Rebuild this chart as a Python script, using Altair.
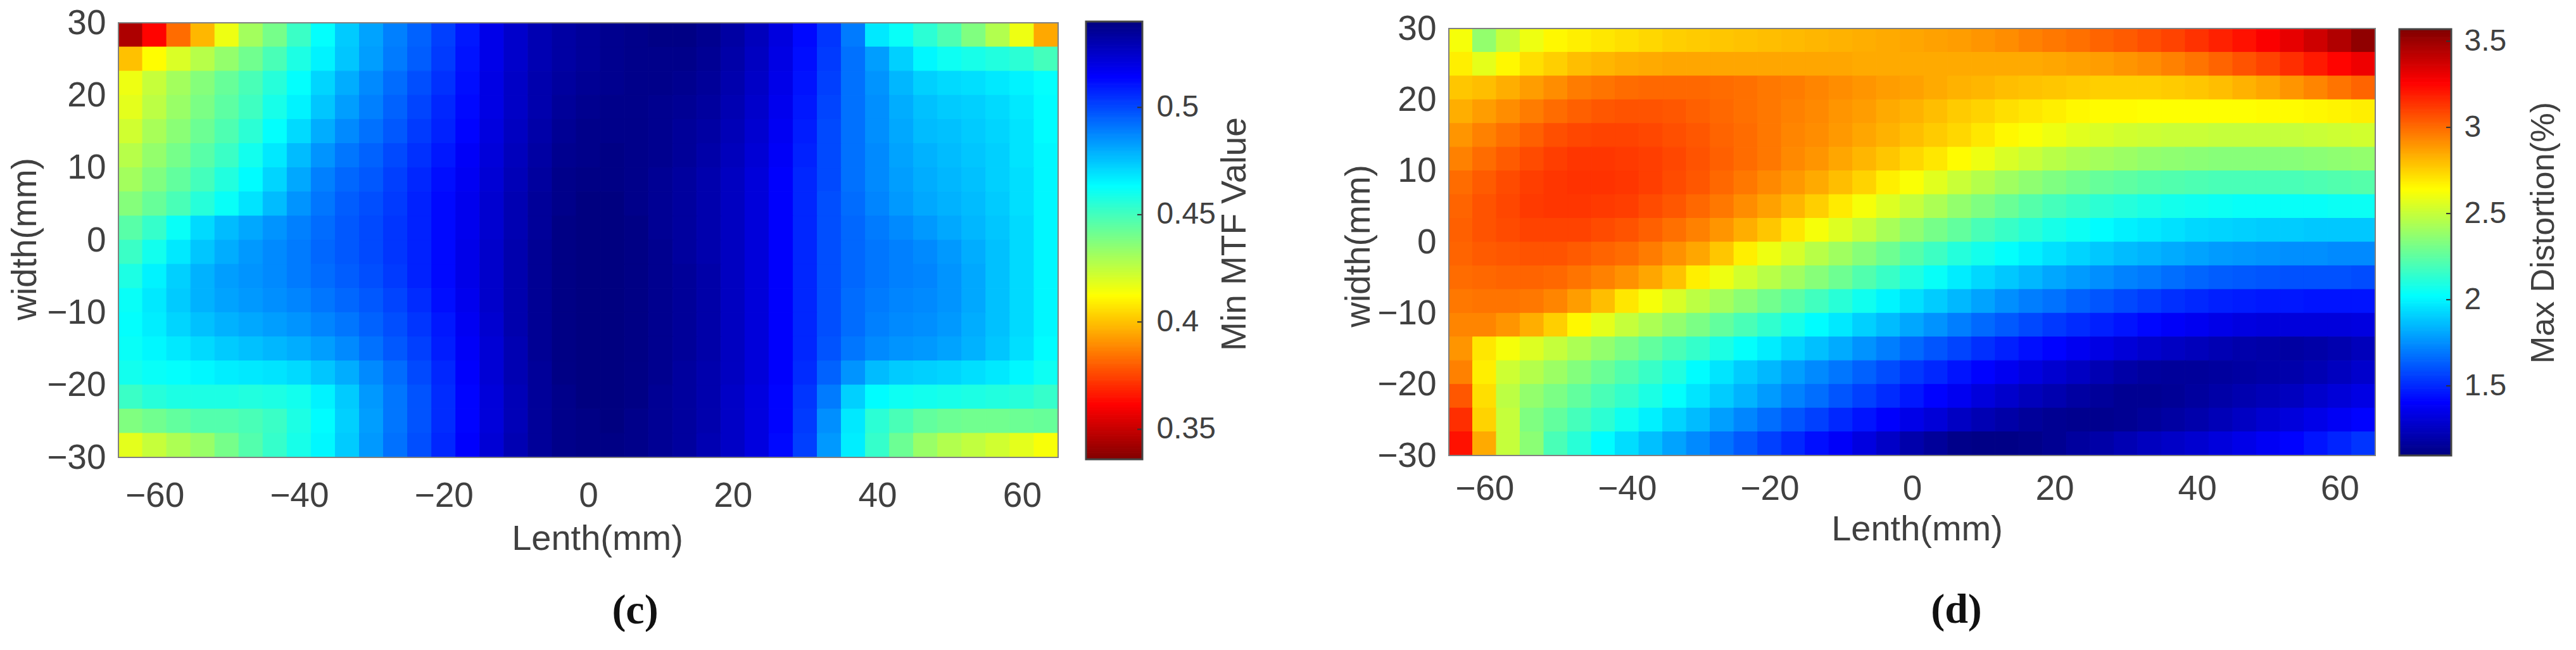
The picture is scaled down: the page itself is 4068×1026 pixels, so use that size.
import altair as alt
import numpy as np
import pandas as pd

# Values, one row per 3.33 mm band, top (width=+30) to bottom.
MTF_MILLI = [
[345,362,383,398,416,431,440,452,463,474,482,489,495,502,510,519,525,530,533,535,537,538,539,539,537,533,528,521,513,504,490,468,462,455,448,438,428,416,395],
[400,412,420,427,434,441,449,458,466,475,483,490,496,503,511,519,525,530,533,535,537,538,538,538,536,532,527,520,512,503,492,483,473,465,461,459,457,455,450],
[416,424,431,437,443,449,456,463,472,480,487,493,499,505,512,520,526,531,534,536,537,538,538,537,535,531,526,519,511,502,492,485,478,473,471,470,468,466,463],
[418,426,433,439,445,451,459,466,475,483,489,495,501,507,513,520,526,531,535,537,538,538,537,536,534,530,525,518,510,501,492,486,480,476,474,473,471,468,464],
[422,430,436,442,448,455,463,471,480,487,492,497,503,508,514,521,527,532,536,538,538,538,537,535,533,529,524,517,509,500,492,486,481,477,476,474,472,469,464],
[427,434,440,446,452,460,468,477,485,491,495,500,505,510,516,522,528,533,537,538,539,538,537,535,532,528,523,516,508,500,492,487,482,479,477,475,473,469,465],
[431,438,444,450,457,464,472,481,489,494,497,502,507,512,517,523,529,534,538,539,539,538,536,534,531,527,522,515,507,500,492,487,483,480,478,476,473,470,465],
[437,443,449,456,462,469,477,485,491,496,499,503,508,513,518,524,530,535,538,540,540,538,536,534,531,527,522,515,507,499,493,488,484,481,479,477,474,470,465],
[446,453,462,471,477,481,485,489,493,497,500,504,508,513,518,524,530,535,539,540,540,539,536,534,531,527,522,515,507,499,494,490,487,484,481,478,475,471,465],
[452,460,468,475,480,484,487,490,494,497,500,504,508,513,519,525,531,536,539,540,540,539,537,534,531,527,522,515,507,499,494,491,489,487,484,480,476,471,465],
[458,466,473,479,483,485,487,490,493,496,499,503,508,513,519,525,531,536,539,540,540,539,537,535,532,527,522,515,507,499,494,491,489,488,485,481,476,471,465],
[462,468,474,479,482,484,486,488,491,494,497,501,506,512,518,525,531,536,539,540,540,539,537,535,532,527,522,515,507,499,493,490,488,487,485,481,476,471,465],
[463,467,472,476,479,481,483,485,488,491,495,499,504,510,517,524,531,536,539,540,540,539,537,535,532,527,522,515,507,499,493,489,487,486,484,480,476,471,465],
[462,465,468,471,474,476,478,480,483,487,492,497,502,509,516,523,530,536,539,540,540,539,537,535,532,527,522,515,507,498,491,487,485,484,482,479,475,470,464],
[460,462,463,465,467,468,469,471,475,480,487,493,500,507,515,523,530,535,539,540,540,539,537,534,531,527,522,515,506,495,485,477,474,473,472,470,468,465,461],
[452,456,458,458,458,457,458,460,466,474,484,491,498,506,514,522,529,535,538,540,540,539,536,534,531,526,521,514,504,490,473,464,461,460,459,458,457,456,453],
[438,441,444,447,447,449,452,458,464,473,483,491,498,506,514,522,529,535,538,539,540,538,536,534,531,526,521,514,503,486,468,455,449,444,442,441,441,442,443],
[418,424,429,433,440,447,453,459,465,474,484,492,499,507,515,523,530,535,538,539,539,538,536,534,530,526,521,513,502,484,467,453,442,433,428,425,422,418,414],
]

DIST_CENTI = [
[262,238,250,260,266,268,270,272,274,276,277,278,279,280,281,282,283,284,285,286,287,288,290,292,295,297,299,302,304,307,310,314,318,322,327,332,338,345,353],
[268,258,266,272,276,280,282,284,285,286,286,286,286,286,286,286,286,285,285,285,285,285,285,285,285,286,287,288,290,292,295,298,302,306,310,315,320,325,330],
[278,280,284,288,292,296,298,300,301,301,301,300,299,297,296,294,292,290,288,287,285,283,282,280,279,278,277,276,276,276,277,278,280,283,286,290,294,298,302],
[284,288,292,296,300,303,305,306,306,305,303,301,299,297,295,293,290,288,285,283,280,277,275,272,270,268,266,265,265,264,264,264,264,264,265,265,266,267,268],
[290,295,299,303,307,309,310,310,309,307,305,302,300,297,294,292,289,286,283,280,277,274,270,266,263,260,257,255,253,252,251,251,250,250,250,250,251,252,253],
[295,300,304,308,311,313,313,312,311,309,306,303,300,297,293,290,286,282,278,274,270,265,260,255,251,247,244,242,240,238,237,236,235,235,235,235,236,237,238],
[300,304,308,311,313,314,314,313,311,308,305,301,297,293,289,285,280,275,268,263,257,251,246,241,237,233,230,227,225,223,222,221,220,220,220,220,221,222,223],
[302,306,309,312,313,313,312,311,308,305,301,297,292,287,282,276,269,262,256,250,244,238,233,228,223,219,216,213,211,209,207,206,205,204,204,204,204,205,205],
[303,306,308,310,310,310,308,306,303,299,295,290,284,278,270,262,256,250,243,237,231,226,220,216,212,208,205,202,199,197,195,193,192,191,190,190,189,189,189],
[302,304,305,306,306,304,302,300,296,291,286,278,268,260,254,247,241,235,229,223,217,211,207,203,199,195,192,189,186,184,182,180,178,177,176,175,175,174,174],
[300,301,302,302,301,298,295,291,286,279,268,260,253,247,241,235,229,222,216,210,204,198,193,189,185,181,178,175,172,170,167,165,163,162,161,160,160,160,159],
[297,298,298,297,294,288,280,270,262,255,248,242,236,230,224,218,212,206,200,195,190,185,180,175,171,168,164,161,158,155,152,150,148,147,146,146,145,145,145],
[294,294,290,284,276,266,258,250,244,238,232,226,220,214,208,202,197,191,186,181,176,171,166,162,158,154,151,148,145,142,139,137,135,133,132,132,132,132,133],
[290,270,262,256,250,244,238,232,226,220,215,209,203,198,192,187,182,176,171,166,161,157,152,148,144,141,137,134,131,128,126,124,122,120,119,118,119,121,124],
[295,268,252,246,240,234,228,222,216,210,202,196,190,185,179,174,169,164,159,154,150,145,141,137,133,129,126,122,119,117,116,116,117,118,119,120,122,125,128],
[305,272,248,238,232,226,220,215,209,203,196,190,184,178,172,167,161,156,151,146,141,137,132,128,124,121,118,116,114,114,115,117,119,121,123,125,128,131,134],
[315,275,250,233,226,219,213,206,199,192,186,179,173,167,161,156,150,145,140,135,131,126,122,119,116,114,113,113,114,116,118,120,123,126,129,132,135,138,141],
[322,285,250,236,220,212,202,194,187,180,174,168,162,156,150,144,139,133,127,120,116,112,111,111,112,114,117,119,122,125,127,129,132,135,138,141,145,149,153],
]

X_TICKS = [-60, -40, -20, 0, 20, 40, 60]
Y_TICKS = [-30, -20, -10, 0, 10, 20, 30]
MTF_TICKS = [0.35, 0.4, 0.45, 0.5]
DIST_TICKS = [1.5, 2, 2.5, 3, 3.5]
MTF_RANGE = (0.336, 0.540)
DIST_RANGE = (1.096, 3.57)
JET = ["#000080", "#0000ff", "#0080ff", "#00ffff", "#80ff80",
       "#ffff00", "#ff8000", "#ff0000", "#800000"]
JET_REV = JET[::-1]

TXT = "#404040"
FONT = "Liberation Sans"


def color_scale(rng, colors):
    return alt.Scale(domain=list(np.linspace(rng[0], rng[1], len(colors))), range=colors,
                     interpolate="rgb", clamp=True)


def grid_frame(rows, factor):
    a = np.array(rows, dtype=float) * factor
    nr, nc = a.shape
    xe = np.linspace(-65, 65, nc + 1)
    ye = np.linspace(30, -30, nr + 1)
    recs = []
    for r in range(nr):
        for c in range(nc):
            recs.append(dict(x0=xe[c], x1=xe[c + 1], y0=ye[r + 1], y1=ye[r], v=a[r, c]))
    return pd.DataFrame(recs)


def heat(rows, factor, rng, colors, total_w, plot_w, total_h, y_rng, caption, cap_dx, cap_off,
         lab_pad, title_pad, title_x, ytitle_pad, ytitle_y):
    xs = alt.Scale(domain=[-65, 65], range=[0, plot_w], nice=False, zero=False)
    ys = alt.Scale(domain=[-30, 30], range=y_rng, nice=False, zero=False)
    cs = color_scale(rng, colors)
    x_axis = alt.Axis(
        values=X_TICKS, title="Lenth(mm)", grid=False, ticks=False, domain=False,
        labelFontSize=55, labelFont=FONT, labelColor=TXT, labelPadding=lab_pad,
        labelFlush=False, labelOverlap=False, format="d",
        titleFontSize=56, titleFont=FONT, titleColor=TXT, titleFontWeight="normal",
        titlePadding=title_pad, titleX=title_x)
    y_axis = alt.Axis(
        values=Y_TICKS, title="width(mm)", grid=False, ticks=False, domain=False,
        labelFontSize=55, labelFont=FONT, labelColor=TXT, labelPadding=20,
        labelFlush=False, labelOverlap=False, format="d",
        titleFontSize=55, titleFont=FONT, titleColor=TXT, titleFontWeight="normal",
        titlePadding=ytitle_pad, titleY=ytitle_y)
    cells = alt.Chart(grid_frame(rows, factor)).mark_rect(strokeWidth=1, clip=True).encode(
        x=alt.X("x0:Q", scale=xs, axis=x_axis),
        x2="x1:Q",
        y=alt.Y("y0:Q", scale=ys, axis=y_axis),
        y2="y1:Q",
        color=alt.Color("v:Q", scale=cs, legend=None),
        stroke=alt.Stroke("v:Q", scale=cs, legend=None),
    )
    frame = alt.Chart(pd.DataFrame({"a": [-65], "b": [65], "c": [-30], "d": [30]})).mark_rect(
        fillOpacity=0, stroke="#808080", strokeWidth=2
    ).encode(
        x=alt.X("a:Q", scale=xs, axis=x_axis), x2="b:Q",
        y=alt.Y("c:Q", scale=ys, axis=y_axis), y2="d:Q",
    )
    return alt.layer(cells, frame).properties(
        width=total_w, height=total_h,
        title=alt.TitleParams(caption, orient="bottom", anchor="middle", dx=cap_dx, offset=cap_off,
                              font="Liberation Serif", fontSize=66, fontWeight="bold", color="#111111"),
    )


def colorbar(rng, colors, ticks, bar_w, total_h, y_rng, name, lab_pad, lab_size, title_pad, title_size, title_y):
    edges = np.linspace(rng[0], rng[1], 257)
    df = pd.DataFrame({"a": edges[:-1], "b": edges[1:], "v": (edges[:-1] + edges[1:]) / 2})
    ys = alt.Scale(domain=list(rng), range=y_rng, nice=False, zero=False)
    cs = color_scale(rng, colors)
    y_axis = alt.Axis(
        orient="right", values=ticks, title=name, grid=False, ticks=False, domain=False,
        labelFontSize=lab_size, labelFont=FONT, labelColor=TXT, labelPadding=lab_pad,
        labelFlush=False, labelOverlap=False, format="~g",
        titleFontSize=title_size, titleFont=FONT, titleColor=TXT, titleFontWeight="normal",
        titleAngle=270, titlePadding=title_pad, titleY=title_y)
    bar = alt.Chart(df).mark_rect(strokeWidth=1).encode(
        x=alt.value(0), x2=alt.value(bar_w),
        y=alt.Y("a:Q", scale=ys, axis=y_axis),
        y2="b:Q",
        color=alt.Color("v:Q", scale=cs, legend=None),
        stroke=alt.Stroke("v:Q", scale=cs, legend=None),
    )
    tick = alt.Chart(pd.DataFrame({"t": ticks})).mark_rule(color="#333333", strokeWidth=2).encode(
        x=alt.value(bar_w - 8), x2=alt.value(bar_w),
        y=alt.Y("t:Q", scale=ys, axis=y_axis),
    )
    frame = alt.Chart(pd.DataFrame({"a": [rng[0]], "b": [rng[1]]})).mark_rect(
        fillOpacity=0, stroke="#444444", strokeWidth=3
    ).encode(
        x=alt.value(0), x2=alt.value(bar_w),
        y=alt.Y("a:Q", scale=ys, axis=y_axis), y2="b:Q",
    )
    return alt.layer(bar, tick, frame).properties(width=bar_w, height=total_h)


panel_c = heat(MTF_MILLI, 0.001, MTF_RANGE, JET_REV, 1490, 1484, 688, [688, 2], "(c)", 71, 54, 34, 13, 756, 5, 343)
bar_c = colorbar(MTF_RANGE, JET_REV, MTF_TICKS, 89, 691, [691, 0], "Min MTF Value", 22, 48, 59, 55, 335)
spacer = alt.Chart(pd.DataFrame({"s": [0]})).mark_point(opacity=0).encode(
    x=alt.value(0), y=alt.value(0)).properties(width=408, height=20)
panel_d = heat(DIST_CENTI, 0.01, DIST_RANGE, JET, 1463, 1463, 685, [685, 11], "(d)", 70, 68, 26, 9, 739, 0, 354)
bar_d = colorbar(DIST_RANGE, JET, DIST_TICKS, 82, 685, [685, 12], "Max Distortion(%)", 20, 48, 86, 52, 333)

chart = alt.hconcat(panel_c, bar_c, spacer, panel_d, bar_d, spacing=38, bounds="flush").properties(
    padding={"left": 4, "top": 1, "right": 0, "bottom": 0},
    background="white",
).resolve_scale(color="independent", stroke="independent", x="independent", y="independent"
).configure_view(strokeWidth=0)

chart.save("out.html", embed_options={"renderer": "svg", "actions": False})
